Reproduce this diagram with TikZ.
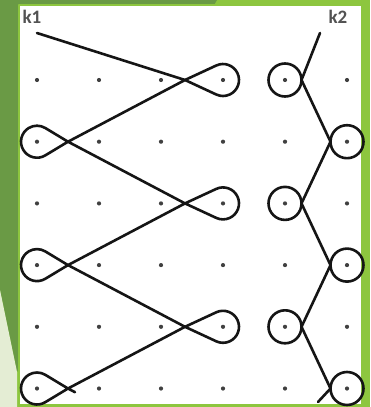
\documentclass[tikz,border=0pt]{standalone}
\usepackage{fontspec}
\setmainfont{Carlito}
\usetikzlibrary{calc}
\definecolor{darkgreen}{HTML}{6A9A45}
\definecolor{limeb}{HTML}{8DC63F}
\definecolor{palegreen}{HTML}{E4EDD4}
\definecolor{ink}{HTML}{151515}
\begin{document}
\begin{tikzpicture}[x=1pt,y=-1pt, line join=round, line cap=round,
  knot/.style={ink, line width=2.6pt},
  dotnode/.style={circle, fill=black!75, draw=none, inner sep=0pt, minimum size=4.2pt},
  lab/.style={font=\bfseries\fontsize{19}{20}\selectfont, text=black!68, inner sep=0pt}]
\useasboundingbox (0,0) rectangle (370,407);
% background
\fill[limeb] (0,0) rectangle (370,407);
\fill[darkgreen] (0,0) -- (217,0) -- (100,200) -- (17,372) -- (0,290) -- cycle;
\fill[palegreen] (0,290) -- (17,372) -- (17,407) -- (0,407) -- cycle;
\fill[white] (20,6) rectangle (361,404);
\draw[limeb, line width=2pt] (19,5) rectangle (362,405);
% dots
\foreach \i in {0,...,5} {
  \foreach \j in {0,...,5} {
    \node[dotnode] (d\i\j) at ({37+62*\i},{80+61.7*\j}) {};
  }
}
% labels
\node[lab] (k1) at (32,17) {k1};
\node[lab] (k2) at (338,17) {k2};
% left knot
\coordinate (k1s) at (37,33);
\foreach \j/\tx in {0/185,1/68,2/185,3/68,4/185,5/68}
  \coordinate (t\j) at (\tx,{80+61.7*\j});
\coordinate (k1e) at (75,392.2);
\draw[knot] (k1s) -- (t0) -- (t1) -- (t2) -- (t3) -- (t4) -- (t5) -- (k1e);
\foreach \j in {0,2,4}
  \draw[knot] (t\j) -- ($(d3\j)+(245.1:16)$) arc[start angle=245.1,end angle=474.9,radius=16] -- cycle;
\foreach \j in {1,3,5}
  \draw[knot] (t\j) -- ($(d0\j)+(58.9:16)$) arc[start angle=58.9,end angle=301.1,radius=16] -- cycle;
% right knot
\coordinate (k2s) at (320,33);
\foreach \j/\vx in {0/301.5,1/330.5,2/301.5,3/330.5,4/301.5,5/330.5}
  \coordinate (v\j) at (\vx,{80+61.7*\j});
\coordinate (k2e) at (318,402);
\draw[knot] (k2s) -- (v0) -- (v1) -- (v2) -- (v3) -- (v4) -- (v5) -- (k2e);
\foreach \j in {0,2,4}
  \draw[knot] (d4\j) circle[radius=16.5];
\foreach \j in {1,3,5}
  \draw[knot] (d5\j) circle[radius=16.5];
\end{tikzpicture}
\end{document}
